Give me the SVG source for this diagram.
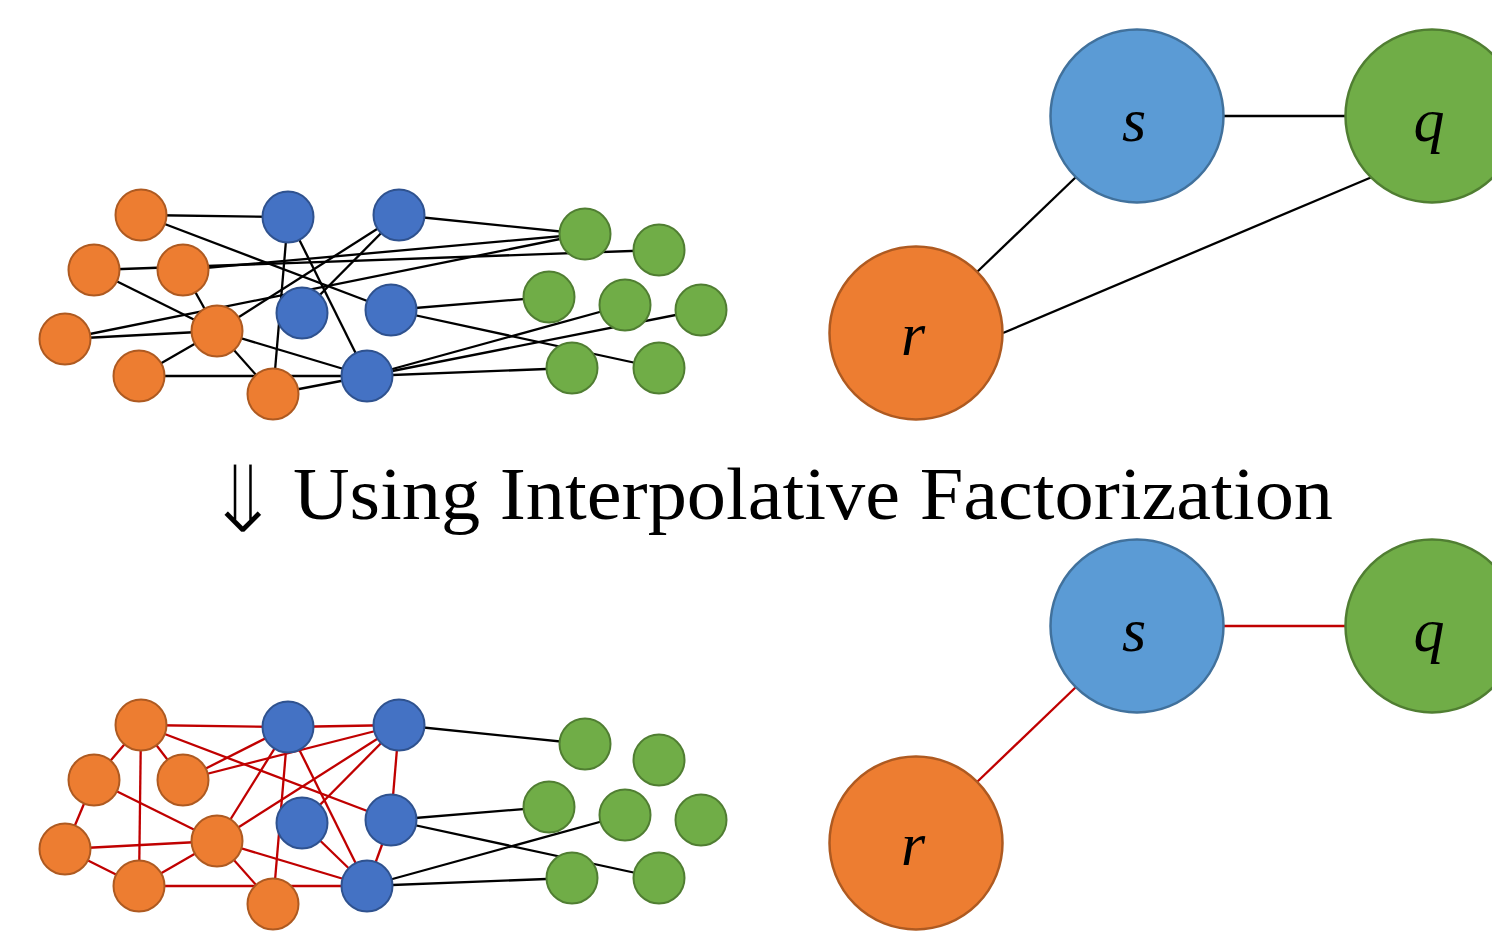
<svg xmlns="http://www.w3.org/2000/svg" width="1492" height="934" viewBox="0 0 1492 934">
<style>
.o{fill:#ED7D31;stroke:#AE5A21;stroke-width:2}
.b{fill:#4472C4;stroke:#2F528F;stroke-width:2}
.g{fill:#70AD47;stroke:#507E32;stroke-width:2}
.bo{fill:#ED7D31;stroke:#AE5A21;stroke-width:2.5}
.bs{fill:#5B9BD5;stroke:#41719C;stroke-width:2.5}
.bg{fill:#70AD47;stroke:#507E32;stroke-width:2.5}
.k line{stroke:#000;stroke-width:2.3}
.rd line{stroke:#C00000;stroke-width:2.3}
.lbl{font-family:"Liberation Serif",serif;font-style:italic;font-size:62px;fill:#000;text-anchor:middle}
</style>
<rect width="1492" height="934" fill="#fff"/>
<defs>
<g id="nodesT">
<circle class="o" cx="141" cy="215" r="25.5"/>
<circle class="o" cx="94" cy="270" r="25.5"/>
<circle class="o" cx="183" cy="270" r="25.5"/>
<circle class="o" cx="65" cy="339" r="25.5"/>
<circle class="o" cx="217" cy="331" r="25.5"/>
<circle class="o" cx="139" cy="376" r="25.5"/>
<circle class="o" cx="273" cy="394" r="25.5"/>
<circle class="b" cx="288" cy="217" r="25.5"/>
<circle class="b" cx="399" cy="215" r="25.5"/>
<circle class="b" cx="302" cy="313" r="25.5"/>
<circle class="b" cx="391" cy="310" r="25.5"/>
<circle class="b" cx="367" cy="376" r="25.5"/>
<circle class="g" cx="585" cy="234" r="25.5"/>
<circle class="g" cx="659" cy="250" r="25.5"/>
<circle class="g" cx="549" cy="297" r="25.5"/>
<circle class="g" cx="625" cy="305" r="25.5"/>
<circle class="g" cx="701" cy="310" r="25.5"/>
<circle class="g" cx="572" cy="368" r="25.5"/>
<circle class="g" cx="659" cy="368" r="25.5"/>
</g>
</defs>
<g id="connectors">
<g id="top-edges" class="k">
<line x1="141" y1="215" x2="288" y2="217"/>
<line x1="141" y1="215" x2="391" y2="310"/>
<line x1="94" y1="270" x2="659" y2="250"/>
<line x1="183" y1="270" x2="585" y2="234"/>
<line x1="94" y1="270" x2="217" y2="331"/>
<line x1="183" y1="270" x2="217" y2="331"/>
<line x1="65" y1="339" x2="217" y2="331"/>
<line x1="65" y1="339" x2="585" y2="234"/>
<line x1="217" y1="331" x2="399" y2="215"/>
<line x1="217" y1="331" x2="139" y2="376"/>
<line x1="217" y1="331" x2="273" y2="394"/>
<line x1="217" y1="331" x2="367" y2="376"/>
<line x1="139" y1="376" x2="367" y2="376"/>
<line x1="273" y1="394" x2="367" y2="376"/>
<line x1="273" y1="394" x2="288" y2="217"/>
<line x1="288" y1="217" x2="367" y2="376"/>
<line x1="399" y1="215" x2="302" y2="313"/>
<line x1="399" y1="215" x2="585" y2="234"/>
<line x1="391" y1="310" x2="549" y2="297"/>
<line x1="391" y1="310" x2="659" y2="368"/>
<line x1="367" y1="376" x2="625" y2="305"/>
<line x1="367" y1="376" x2="701" y2="310"/>
<line x1="367" y1="376" x2="572" y2="368"/>
</g>
<g id="bottom-edges-red" class="rd">
<line x1="141" y1="725" x2="288" y2="727"/>
<line x1="141" y1="725" x2="94" y2="780"/>
<line x1="141" y1="725" x2="183" y2="780"/>
<line x1="141" y1="725" x2="139" y2="886"/>
<line x1="141" y1="725" x2="391" y2="820"/>
<line x1="94" y1="780" x2="65" y2="849"/>
<line x1="94" y1="780" x2="217" y2="841"/>
<line x1="183" y1="780" x2="288" y2="727"/>
<line x1="183" y1="780" x2="399" y2="725"/>
<line x1="288" y1="727" x2="399" y2="725"/>
<line x1="65" y1="849" x2="217" y2="841"/>
<line x1="65" y1="849" x2="139" y2="886"/>
<line x1="217" y1="841" x2="139" y2="886"/>
<line x1="217" y1="841" x2="273" y2="904"/>
<line x1="217" y1="841" x2="288" y2="727"/>
<line x1="217" y1="841" x2="399" y2="725"/>
<line x1="217" y1="841" x2="367" y2="886"/>
<line x1="139" y1="886" x2="367" y2="886"/>
<line x1="273" y1="904" x2="288" y2="727"/>
<line x1="288" y1="727" x2="367" y2="886"/>
<line x1="302" y1="823" x2="367" y2="886"/>
<line x1="399" y1="725" x2="302" y2="823"/>
<line x1="399" y1="725" x2="391" y2="820"/>
<line x1="391" y1="820" x2="367" y2="886"/>
</g>
<g id="bottom-edges-black" class="k">
<line x1="399" y1="725" x2="585" y2="744"/>
<line x1="391" y1="820" x2="549" y2="807"/>
<line x1="391" y1="820" x2="659" y2="878"/>
<line x1="367" y1="886" x2="625" y2="815"/>
<line x1="367" y1="886" x2="572" y2="878"/>
</g>
<g id="big-edges-top" class="k">
<line x1="1224" y1="116" x2="1345" y2="116"/>
<line x1="977" y1="272" x2="1076" y2="177"/>
<line x1="1003" y1="333" x2="1372" y2="177"/>
</g>
<g id="big-edges-bottom" class="rd">
<line x1="1224" y1="626" x2="1345" y2="626"/>
<line x1="977" y1="782" x2="1076" y2="687"/>
</g>
</g>
<g id="small-graph-top"><use href="#nodesT"/></g>
<g id="small-graph-bottom"><use href="#nodesT" transform="translate(0,510)"/></g>
<g id="node-s-top"><circle class="bs" cx="1137" cy="116" r="86.5"/><text class="lbl" x="1134" y="141">s</text></g>
<g id="node-q-top"><circle class="bg" cx="1432" cy="116" r="86.5"/><text class="lbl" x="1429" y="141">q</text></g>
<g id="node-r-top"><circle class="bo" cx="916" cy="333" r="86.5"/><text class="lbl" x="913" y="355">r</text></g>
<g id="node-s-bottom"><circle class="bs" cx="1137" cy="626" r="86.5"/><text class="lbl" x="1134" y="651">s</text></g>
<g id="node-q-bottom"><circle class="bg" cx="1432" cy="626" r="86.5"/><text class="lbl" x="1429" y="651">q</text></g>
<g id="node-r-bottom"><circle class="bo" cx="916" cy="843" r="86.5"/><text class="lbl" x="913" y="865">r</text></g>
<g id="caption">
<text x="243" y="533" font-family="DejaVu Sans,sans-serif" font-size="96" fill="#000" stroke="#fff" stroke-width="3" text-anchor="middle">⇓</text>
<text x="293" y="519" font-family="Liberation Serif,serif" font-size="75" fill="#000" textLength="1040" lengthAdjust="spacingAndGlyphs">Using Interpolative Factorization</text>
</g>
</svg>
